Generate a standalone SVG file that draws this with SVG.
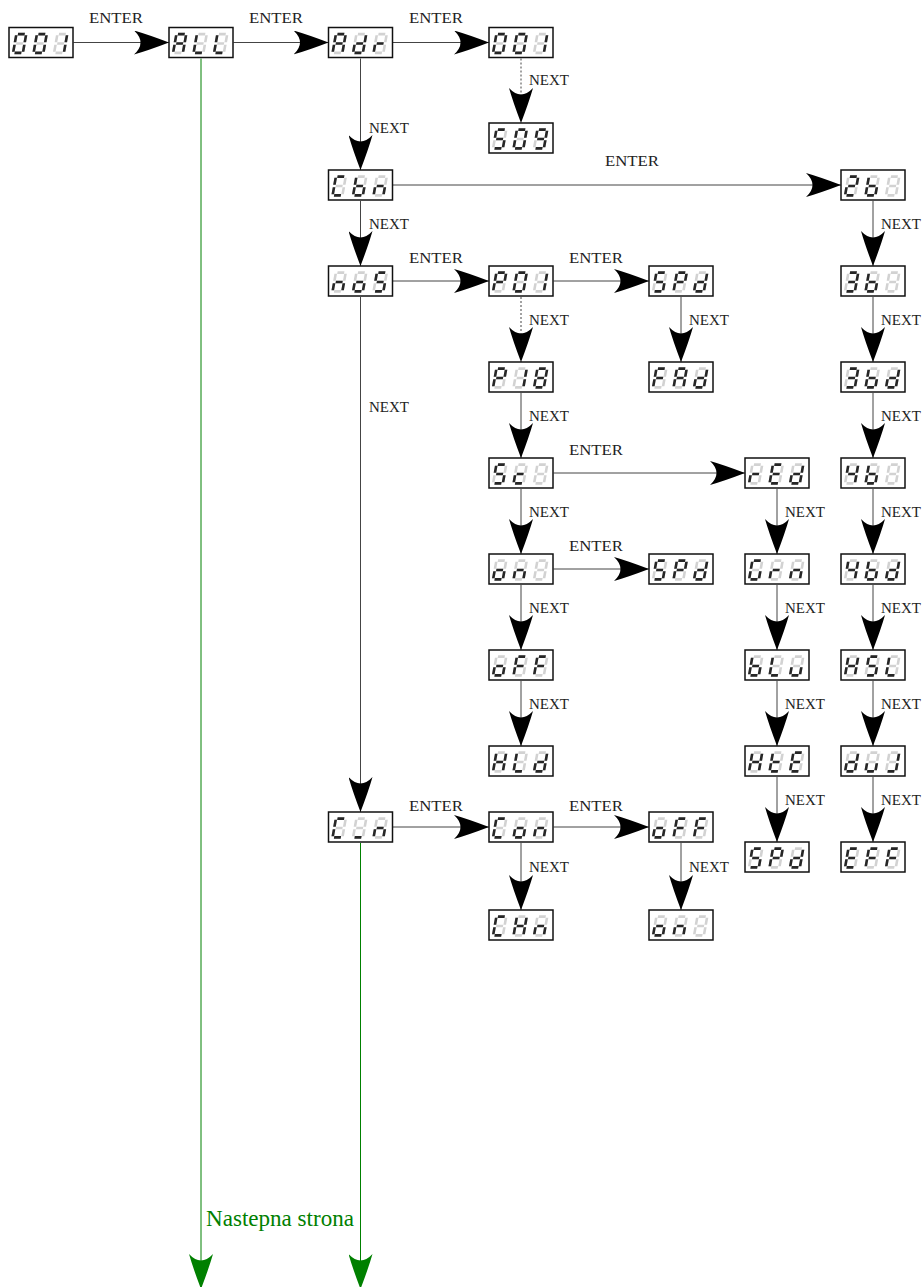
<svg xmlns="http://www.w3.org/2000/svg" width="923" height="1287" viewBox="0 0 923 1287">
<style>
.box{fill:#fff;stroke:#111;stroke-width:1.5}
.off{fill:none;stroke:#d2d2d2;stroke-width:2.6}
.on{fill:none;stroke:#262626;stroke-width:2.6}
.ln{fill:none;stroke:#444;stroke-width:1;marker-end:url(#ah)}
.dot{stroke-dasharray:2 2}
.gr{fill:none;stroke:#008000;stroke-width:1;marker-end:url(#ahg)}
.lbl{font-family:"Liberation Serif","Times New Roman",serif;font-size:15px;fill:#222}
.grt{font-family:"Liberation Serif","Times New Roman",serif;font-size:23px;fill:#008000}
</style>
<defs>
<marker id="ah" markerUnits="userSpaceOnUse" viewBox="0 0 35 24" markerWidth="35" markerHeight="24" refX="35" refY="12" orient="auto"><path d="M0,0 Q14,4 35,12 Q14,20 0,24 Q13,12 0,0Z" fill="#000"/></marker>
<marker id="ahg" markerUnits="userSpaceOnUse" viewBox="0 0 35 24" markerWidth="35" markerHeight="24" refX="35" refY="12" orient="auto"><path d="M0,0 Q14,4 35,12 Q14,20 0,24 Q13,12 0,0Z" fill="#008000"/></marker>
<path id="s8" d="M1.6 1.1H8.4M9.9 2.2V9.3M9.9 11.7V18.8M1.6 19.9H8.4M0.1 11.7V18.8M0.1 2.2V9.3M1.6 10.5H8.4"/>
<g id="g0" transform="skewX(-10)"><use href="#s8" class="off"/><path class="on" d="M1.6 1.1H8.4M9.9 2.2V9.3M9.9 11.7V18.8M1.6 19.9H8.4M0.1 11.7V18.8M0.1 2.2V9.3"/></g>
<g id="g1" transform="skewX(-10)"><use href="#s8" class="off"/><path class="on" d="M9.9 2.2V9.3M9.9 11.7V18.8"/></g>
<g id="g2" transform="skewX(-10)"><use href="#s8" class="off"/><path class="on" d="M1.6 1.1H8.4M9.9 2.2V9.3M1.6 19.9H8.4M0.1 11.7V18.8M1.6 10.5H8.4"/></g>
<g id="g3" transform="skewX(-10)"><use href="#s8" class="off"/><path class="on" d="M1.6 1.1H8.4M9.9 2.2V9.3M9.9 11.7V18.8M1.6 19.9H8.4M1.6 10.5H8.4"/></g>
<g id="g4" transform="skewX(-10)"><use href="#s8" class="off"/><path class="on" d="M9.9 2.2V9.3M9.9 11.7V18.8M0.1 2.2V9.3M1.6 10.5H8.4"/></g>
<g id="g5" transform="skewX(-10)"><use href="#s8" class="off"/><path class="on" d="M1.6 1.1H8.4M9.9 11.7V18.8M1.6 19.9H8.4M0.1 2.2V9.3M1.6 10.5H8.4"/></g>
<g id="g8" transform="skewX(-10)"><use href="#s8" class="on"/></g>
<g id="g9" transform="skewX(-10)"><use href="#s8" class="off"/><path class="on" d="M1.6 1.1H8.4M9.9 2.2V9.3M9.9 11.7V18.8M1.6 19.9H8.4M0.1 2.2V9.3M1.6 10.5H8.4"/></g>
<g id="gA" transform="skewX(-10)"><use href="#s8" class="off"/><path class="on" d="M1.6 1.1H8.4M9.9 2.2V9.3M9.9 11.7V18.8M0.1 11.7V18.8M0.1 2.2V9.3M1.6 10.5H8.4"/></g>
<g id="gb" transform="skewX(-10)"><use href="#s8" class="off"/><path class="on" d="M9.9 11.7V18.8M1.6 19.9H8.4M0.1 11.7V18.8M0.1 2.2V9.3M1.6 10.5H8.4"/></g>
<g id="gC" transform="skewX(-10)"><use href="#s8" class="off"/><path class="on" d="M1.6 1.1H8.4M1.6 19.9H8.4M0.1 11.7V18.8M0.1 2.2V9.3"/></g>
<g id="gc" transform="skewX(-10)"><use href="#s8" class="off"/><path class="on" d="M1.6 19.9H8.4M0.1 11.7V18.8M1.6 10.5H8.4"/></g>
<g id="gd" transform="skewX(-10)"><use href="#s8" class="off"/><path class="on" d="M9.9 2.2V9.3M9.9 11.7V18.8M1.6 19.9H8.4M0.1 11.7V18.8M1.6 10.5H8.4"/></g>
<g id="gE" transform="skewX(-10)"><use href="#s8" class="off"/><path class="on" d="M1.6 1.1H8.4M1.6 19.9H8.4M0.1 11.7V18.8M0.1 2.2V9.3M1.6 10.5H8.4"/></g>
<g id="gF" transform="skewX(-10)"><use href="#s8" class="off"/><path class="on" d="M1.6 1.1H8.4M0.1 11.7V18.8M0.1 2.2V9.3M1.6 10.5H8.4"/></g>
<g id="gG" transform="skewX(-10)"><use href="#s8" class="off"/><path class="on" d="M1.6 1.1H8.4M9.9 11.7V18.8M1.6 19.9H8.4M0.1 11.7V18.8M0.1 2.2V9.3"/></g>
<g id="gH" transform="skewX(-10)"><use href="#s8" class="off"/><path class="on" d="M9.9 2.2V9.3M9.9 11.7V18.8M0.1 11.7V18.8M0.1 2.2V9.3M1.6 10.5H8.4"/></g>
<g id="gJ" transform="skewX(-10)"><use href="#s8" class="off"/><path class="on" d="M9.9 2.2V9.3M9.9 11.7V18.8M1.6 19.9H8.4"/></g>
<g id="gL" transform="skewX(-10)"><use href="#s8" class="off"/><path class="on" d="M1.6 19.9H8.4M0.1 11.7V18.8M0.1 2.2V9.3"/></g>
<g id="gn" transform="skewX(-10)"><use href="#s8" class="off"/><path class="on" d="M9.9 11.7V18.8M0.1 11.7V18.8M1.6 10.5H8.4"/></g>
<g id="go" transform="skewX(-10)"><use href="#s8" class="off"/><path class="on" d="M9.9 11.7V18.8M1.6 19.9H8.4M0.1 11.7V18.8M1.6 10.5H8.4"/></g>
<g id="gP" transform="skewX(-10)"><use href="#s8" class="off"/><path class="on" d="M1.6 1.1H8.4M9.9 2.2V9.3M0.1 11.7V18.8M0.1 2.2V9.3M1.6 10.5H8.4"/></g>
<g id="gr" transform="skewX(-10)"><use href="#s8" class="off"/><path class="on" d="M0.1 11.7V18.8M1.6 10.5H8.4"/></g>
<g id="gt" transform="skewX(-10)"><use href="#s8" class="off"/><path class="on" d="M1.6 19.9H8.4M0.1 11.7V18.8M0.1 2.2V9.3M1.6 10.5H8.4"/></g>
<g id="gu" transform="skewX(-10)"><use href="#s8" class="off"/><path class="on" d="M9.9 11.7V18.8M1.6 19.9H8.4M0.1 11.7V18.8"/></g>
<g id="gus" transform="skewX(-10)"><use href="#s8" class="off"/><path class="on" d="M1.6 19.9H8.4"/></g>
<g id="gx" transform="skewX(-10)"><use href="#s8" class="off"/></g>
</defs>

<g id="connectors">
<path class="ln" d="M73.5 42.5H169"/>
<path class="ln" d="M233.5 42.5H328.5"/>
<path class="ln" d="M393 42.5H489"/>
<path class="ln" d="M393 185H841"/>
<path class="ln" d="M393 281H489"/>
<path class="ln" d="M553.5 281H649"/>
<path class="ln" d="M553.5 473H745"/>
<path class="ln" d="M553.5 569H649"/>
<path class="ln" d="M393 827H489"/>
<path class="ln" d="M553.5 827H649"/>
<path class="ln" d="M360.5 58.5V170"/>
<path class="ln" d="M360.5 201V266"/>
<path class="ln" d="M360.5 297V812"/>
<path class="ln dot" d="M521 58.5V123"/>
<path class="ln dot" d="M521 297V362"/>
<path class="ln" d="M521 393V458"/>
<path class="ln" d="M521 489V554"/>
<path class="ln" d="M521 585V650"/>
<path class="ln" d="M521 681V746"/>
<path class="ln" d="M681 297V362"/>
<path class="ln" d="M777 489V554"/>
<path class="ln" d="M777 585V650"/>
<path class="ln" d="M777 681V746"/>
<path class="ln" d="M777 777V842"/>
<path class="ln" d="M873 201V266"/>
<path class="ln" d="M873 297V362"/>
<path class="ln" d="M873 393V458"/>
<path class="ln" d="M873 489V554"/>
<path class="ln" d="M873 585V650"/>
<path class="ln" d="M873 681V746"/>
<path class="ln" d="M873 777V842"/>
<path class="ln" d="M521 843V910"/>
<path class="ln" d="M681 843V910"/>
<path class="gr" d="M201 58.5V1289"/>
<path class="gr" d="M360.5 843V1289"/>
</g>

<g id="labels" class="lbl">
<text x="89" y="22.5" textLength="54" lengthAdjust="spacingAndGlyphs">ENTER</text>
<text x="249" y="22.5" textLength="54" lengthAdjust="spacingAndGlyphs">ENTER</text>
<text x="409" y="22.5" textLength="54" lengthAdjust="spacingAndGlyphs">ENTER</text>
<text x="605" y="166" textLength="54" lengthAdjust="spacingAndGlyphs">ENTER</text>
<text x="409" y="263" textLength="54" lengthAdjust="spacingAndGlyphs">ENTER</text>
<text x="569" y="263" textLength="54" lengthAdjust="spacingAndGlyphs">ENTER</text>
<text x="569" y="455" textLength="54" lengthAdjust="spacingAndGlyphs">ENTER</text>
<text x="569" y="551" textLength="54" lengthAdjust="spacingAndGlyphs">ENTER</text>
<text x="409" y="810.5" textLength="54" lengthAdjust="spacingAndGlyphs">ENTER</text>
<text x="569" y="810.5" textLength="54" lengthAdjust="spacingAndGlyphs">ENTER</text>
<text x="529" y="85">NEXT</text>
<text x="369" y="133">NEXT</text>
<text x="369" y="229">NEXT</text>
<text x="369" y="412">NEXT</text>
<text x="529" y="325">NEXT</text>
<text x="529" y="421">NEXT</text>
<text x="529" y="517">NEXT</text>
<text x="529" y="613">NEXT</text>
<text x="529" y="709">NEXT</text>
<text x="689" y="325">NEXT</text>
<text x="785" y="517">NEXT</text>
<text x="785" y="613">NEXT</text>
<text x="785" y="709">NEXT</text>
<text x="785" y="805">NEXT</text>
<text x="881" y="229">NEXT</text>
<text x="881" y="325">NEXT</text>
<text x="881" y="421">NEXT</text>
<text x="881" y="517">NEXT</text>
<text x="881" y="613">NEXT</text>
<text x="881" y="709">NEXT</text>
<text x="881" y="805">NEXT</text>
<text x="529" y="872">NEXT</text>
<text x="689" y="872">NEXT</text>
<text class="grt" x="206" y="1226" textLength="148" lengthAdjust="spacingAndGlyphs">Nastepna strona</text>
</g>

<g id="n-001a"><rect class="box" x="9" y="27.5" width="64" height="30"/><use href="#g0" x="16.5" y="33"/><use href="#g0" x="37" y="33"/><use href="#g1" x="57.5" y="33"/></g>
<g id="n-ALL"><rect class="box" x="169" y="27.5" width="64" height="30"/><use href="#gA" x="176.5" y="33"/><use href="#gL" x="197" y="33"/><use href="#gL" x="217.5" y="33"/></g>
<g id="n-Adr"><rect class="box" x="328.5" y="27.5" width="64" height="30"/><use href="#gA" x="336" y="33"/><use href="#gd" x="356.5" y="33"/><use href="#gr" x="377" y="33"/></g>
<g id="n-001b"><rect class="box" x="489" y="27.5" width="64" height="30"/><use href="#g0" x="496.5" y="33"/><use href="#g0" x="517" y="33"/><use href="#g1" x="537.5" y="33"/></g>
<g id="n-509"><rect class="box" x="489" y="123" width="64" height="30"/><use href="#g5" x="496.5" y="128.5"/><use href="#g0" x="517" y="128.5"/><use href="#g9" x="537.5" y="128.5"/></g>
<g id="n-Cbn"><rect class="box" x="328.5" y="170" width="64" height="30"/><use href="#gC" x="336" y="175.5"/><use href="#gb" x="356.5" y="175.5"/><use href="#gn" x="377" y="175.5"/></g>
<g id="n-noS"><rect class="box" x="328.5" y="266" width="64" height="30"/><use href="#gn" x="336" y="271.5"/><use href="#go" x="356.5" y="271.5"/><use href="#g5" x="377" y="271.5"/></g>
<g id="n-P01"><rect class="box" x="489" y="266" width="64" height="30"/><use href="#gP" x="496.5" y="271.5"/><use href="#g0" x="517" y="271.5"/><use href="#g1" x="537.5" y="271.5"/></g>
<g id="n-SPd1"><rect class="box" x="649" y="266" width="64" height="30"/><use href="#g5" x="656.5" y="271.5"/><use href="#gP" x="677" y="271.5"/><use href="#gd" x="697.5" y="271.5"/></g>
<g id="n-FAd"><rect class="box" x="649" y="362" width="64" height="30"/><use href="#gF" x="656.5" y="367.5"/><use href="#gA" x="677" y="367.5"/><use href="#gd" x="697.5" y="367.5"/></g>
<g id="n-P18"><rect class="box" x="489" y="362" width="64" height="30"/><use href="#gP" x="496.5" y="367.5"/><use href="#g1" x="517" y="367.5"/><use href="#g8" x="537.5" y="367.5"/></g>
<g id="n-Sc"><rect class="box" x="489" y="458" width="64" height="30"/><use href="#g5" x="496.5" y="463.5"/><use href="#gc" x="517" y="463.5"/><use href="#gx" x="537.5" y="463.5"/></g>
<g id="n-on1"><rect class="box" x="489" y="554" width="64" height="30"/><use href="#go" x="496.5" y="559.5"/><use href="#gn" x="517" y="559.5"/><use href="#gx" x="537.5" y="559.5"/></g>
<g id="n-SPd2"><rect class="box" x="649" y="554" width="64" height="30"/><use href="#g5" x="656.5" y="559.5"/><use href="#gP" x="677" y="559.5"/><use href="#gd" x="697.5" y="559.5"/></g>
<g id="n-oFF1"><rect class="box" x="489" y="650" width="64" height="30"/><use href="#go" x="496.5" y="655.5"/><use href="#gF" x="517" y="655.5"/><use href="#gF" x="537.5" y="655.5"/></g>
<g id="n-HLd"><rect class="box" x="489" y="746" width="64" height="30"/><use href="#gH" x="496.5" y="751.5"/><use href="#gL" x="517" y="751.5"/><use href="#gd" x="537.5" y="751.5"/></g>
<g id="n-rEd"><rect class="box" x="745" y="458" width="64" height="30"/><use href="#gr" x="752.5" y="463.5"/><use href="#gE" x="773" y="463.5"/><use href="#gd" x="793.5" y="463.5"/></g>
<g id="n-Grn"><rect class="box" x="745" y="554" width="64" height="30"/><use href="#gG" x="752.5" y="559.5"/><use href="#gr" x="773" y="559.5"/><use href="#gn" x="793.5" y="559.5"/></g>
<g id="n-bLu"><rect class="box" x="745" y="650" width="64" height="30"/><use href="#gb" x="752.5" y="655.5"/><use href="#gL" x="773" y="655.5"/><use href="#gu" x="793.5" y="655.5"/></g>
<g id="n-HtE"><rect class="box" x="745" y="746" width="64" height="30"/><use href="#gH" x="752.5" y="751.5"/><use href="#gt" x="773" y="751.5"/><use href="#gE" x="793.5" y="751.5"/></g>
<g id="n-SPd3"><rect class="box" x="745" y="842" width="64" height="30"/><use href="#g5" x="752.5" y="847.5"/><use href="#gP" x="773" y="847.5"/><use href="#gd" x="793.5" y="847.5"/></g>
<g id="n-2b"><rect class="box" x="841" y="170" width="64" height="30"/><use href="#g2" x="848.5" y="175.5"/><use href="#gb" x="869" y="175.5"/><use href="#gx" x="889.5" y="175.5"/></g>
<g id="n-3b"><rect class="box" x="841" y="266" width="64" height="30"/><use href="#g3" x="848.5" y="271.5"/><use href="#gb" x="869" y="271.5"/><use href="#gx" x="889.5" y="271.5"/></g>
<g id="n-3bd"><rect class="box" x="841" y="362" width="64" height="30"/><use href="#g3" x="848.5" y="367.5"/><use href="#gb" x="869" y="367.5"/><use href="#gd" x="889.5" y="367.5"/></g>
<g id="n-4b"><rect class="box" x="841" y="458" width="64" height="30"/><use href="#g4" x="848.5" y="463.5"/><use href="#gb" x="869" y="463.5"/><use href="#gx" x="889.5" y="463.5"/></g>
<g id="n-4bd"><rect class="box" x="841" y="554" width="64" height="30"/><use href="#g4" x="848.5" y="559.5"/><use href="#gb" x="869" y="559.5"/><use href="#gd" x="889.5" y="559.5"/></g>
<g id="n-HSL"><rect class="box" x="841" y="650" width="64" height="30"/><use href="#gH" x="848.5" y="655.5"/><use href="#g5" x="869" y="655.5"/><use href="#gL" x="889.5" y="655.5"/></g>
<g id="n-duJ"><rect class="box" x="841" y="746" width="64" height="30"/><use href="#gd" x="848.5" y="751.5"/><use href="#gu" x="869" y="751.5"/><use href="#gJ" x="889.5" y="751.5"/></g>
<g id="n-EFF"><rect class="box" x="841" y="842" width="64" height="30"/><use href="#gE" x="848.5" y="847.5"/><use href="#gF" x="869" y="847.5"/><use href="#gF" x="889.5" y="847.5"/></g>
<g id="n-C_n"><rect class="box" x="328.5" y="812" width="64" height="30"/><use href="#gC" x="336" y="817.5"/><use href="#gus" x="356.5" y="817.5"/><use href="#gn" x="377" y="817.5"/></g>
<g id="n-Con"><rect class="box" x="489" y="812" width="64" height="30"/><use href="#gC" x="496.5" y="817.5"/><use href="#go" x="517" y="817.5"/><use href="#gn" x="537.5" y="817.5"/></g>
<g id="n-oFF2"><rect class="box" x="649" y="812" width="64" height="30"/><use href="#go" x="656.5" y="817.5"/><use href="#gF" x="677" y="817.5"/><use href="#gF" x="697.5" y="817.5"/></g>
<g id="n-CHn"><rect class="box" x="489" y="910" width="64" height="30"/><use href="#gC" x="496.5" y="915.5"/><use href="#gH" x="517" y="915.5"/><use href="#gn" x="537.5" y="915.5"/></g>
<g id="n-on2"><rect class="box" x="649" y="910" width="64" height="30"/><use href="#go" x="656.5" y="915.5"/><use href="#gn" x="677" y="915.5"/><use href="#gx" x="697.5" y="915.5"/></g>
</svg>
